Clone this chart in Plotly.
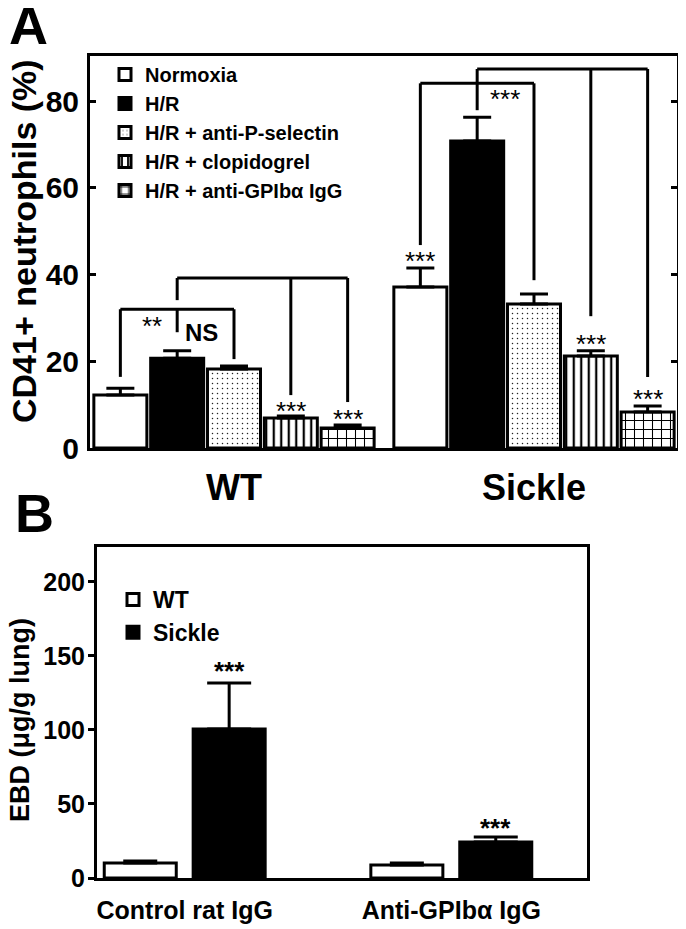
import plotly.graph_objects as go

# ---------------- Panel A data ----------------
groups_A = ["WT", "Sickle"]
series_A = ["Normoxia", "H/R", "H/R + anti-P-selectin", "H/R + clopidogrel", "H/R + anti-GPIbα IgG"]
normoxia = [12.2, 37.1]
hr = [20.7, 70.8]
anti_psel = [18.2, 33.2]
clopidogrel = [6.9, 21.2]
anti_gpib = [4.6, 8.3]
err_normoxia = [1.6, 4.4]
err_hr = [1.7, 5.5]
err_anti_psel = [0.7, 2.3]
err_clopidogrel = [0.5, 1.2]
err_anti_gpib = [0.7, 1.4]
yticks_A = [0, 20, 40, 60, 80]

# ---------------- Panel B data ----------------
groups_B = ["Control rat IgG", "Anti-GPIbα IgG"]
series_B = ["WT", "Sickle"]
ebd_wt = [10.1, 8.8]
ebd_sickle = [100.7, 24.3]
err_wt = [1.4, 1.3]
err_sickle = [31.1, 3.4]
yticks_B = [0, 50, 100, 150, 200]

# page is 686x929; the html body adds an 8px margin, so the figure is 678x921
OFF = 8
W, H = 686 - OFF, 929 - OFF
FONT = "Liberation Sans, Arial, Helvetica, sans-serif"

def px_x(p):
    return (p - OFF) / W

def px_y(p):
    return 1 - (p - OFF) / H

values_A = [normoxia, hr, anti_psel, clopidogrel, anti_gpib]
errors_A = [err_normoxia, err_hr, err_anti_psel, err_clopidogrel, err_anti_gpib]
styles_A = [
    dict(color="white"),
    dict(color="black"),
    dict(color="white", pattern=dict(shape=".", size=5, solidity=0.07, fgcolor="#222", bgcolor="white", fillmode="replace")),
    dict(color="white", pattern=dict(shape="|", size=7.5, solidity=0.3, fgcolor="black", bgcolor="white", fillmode="replace")),
    dict(color="white", pattern=dict(shape="+", size=9, solidity=0.22, fgcolor="black", bgcolor="white", fillmode="replace")),
]

fig = go.Figure()
xpos_A = list(range(len(groups_A)))
for name, vals, errs, st in zip(series_A, values_A, errors_A, styles_A):
    fig.add_trace(go.Bar(
        x=xpos_A, y=vals, name=name,
        marker=dict(line=dict(color="black", width=3), **st),
        error_y=dict(type="data", array=errs, arrayminus=[0] * len(errs), symmetric=False,
                     color="black", thickness=3, width=14),
        xaxis="x", yaxis="y", legend="legend",
    ))

BARGAP_B = 0.333
GROUPGAP_B = 0.19
SLOT_B = (1 - BARGAP_B) / len(series_B)
xpos_B = list(range(len(groups_B)))
for idx, (name, vals, errs, col, w) in enumerate(zip(series_B, [ebd_wt, ebd_sickle], [err_wt, err_sickle],
                                                      ["white", "black"], [17, 22])):
    fig.add_trace(go.Bar(
        x=xpos_B, y=vals, name=name,
        width=SLOT_B * (1 - GROUPGAP_B),
        offset=(idx - len(series_B) / 2) * SLOT_B + SLOT_B * GROUPGAP_B / 2,
        marker=dict(color=col, line=dict(color="black", width=3)),
        error_y=dict(type="data", array=errs, arrayminus=[0] * len(errs), symmetric=False,
                     color="black", thickness=3, width=w),
        xaxis="x2", yaxis="y2", legend="legend2",
    ))

# bar slot geometry for panel A (grouped bars)
BARGAP_A = 0.053
SLOT_A = (1 - BARGAP_A) / len(series_A)

def bx(g, i):
    return g + (i - (len(series_A) - 1) / 2) * SLOT_A

def bx2(g, i):
    return g + (i - (len(series_B) - 1) / 2) * SLOT_B

shapes = []
def seg(x0, y0, x1, y1):
    shapes.append(dict(type="line", xref="x", yref="y", x0=x0, y0=y0, x1=x1, y1=y1,
                       line=dict(color="black", width=3)))

# WT brackets
seg(bx(0, 0), 32.0, bx(0, 2), 32.0)
seg(bx(0, 0), 32.0, bx(0, 0), 16.4)
seg(bx(0, 2), 32.0, bx(0, 2), 20.5)
seg(bx(0, 1), 32.0, bx(0, 1), 26.7)
seg(bx(0, 1), 39.2, bx(0, 4), 39.2)
seg(bx(0, 1), 39.2, bx(0, 1), 34.1)
seg(bx(0, 3), 39.2, bx(0, 3), 12.2)
seg(bx(0, 4), 39.2, bx(0, 4), 10.6)
# Sickle brackets
seg(bx(1, 0), 84.1, bx(1, 2), 84.1)
seg(bx(1, 0), 84.1, bx(1, 0), 46.8)
seg(bx(1, 2), 84.1, bx(1, 2), 38.7)
seg(bx(1, 1), 84.1, bx(1, 1), 77.9)
seg(bx(1, 1), 87.4, bx(1, 4), 87.4)
seg(bx(1, 1), 87.4, bx(1, 1), 84.1)
seg(bx(1, 3), 87.4, bx(1, 3), 30.4)
seg(bx(1, 4), 87.4, bx(1, 4), 16.4)

ann = []
def star(x, y, text, size=26, bold=False, xref="x", yref="y"):
    ann.append(dict(x=x, y=y, xref=xref, yref=yref, text=text, showarrow=False,
                    font=dict(family=FONT, size=size, color="black", weight="bold" if bold else "normal"),
                    xanchor="center", yanchor="middle"))

star(-0.273, 28.2, "**")
star(-0.107, 26.7, "NS", size=24, bold=True)
star(bx(0, 3), 8.6, "***")
star(bx(0, 4), 6.7, "***")
star(bx(1, 1) + 0.093, 80.5, "***")
star(bx(1, 0), 43.2, "***")
star(bx(1, 3), 24.0, "***")
star(bx(1, 4), 11.4, "***")

# Panel B stars
star(bx2(0, 1), 140, "***", size=26, bold=True, xref="x2", yref="y2")
star(bx2(1, 1), 34, "***", size=26, bold=True, xref="x2", yref="y2")

# panel letters and y titles
def label(xp, yp, text, size, angle=0):
    ann.append(dict(x=px_x(xp), y=px_y(yp), xref="paper", yref="paper", text=text, showarrow=False,
                    textangle=angle, font=dict(family=FONT, size=size, color="black", weight="bold"),
                    xanchor="center", yanchor="middle"))

label(28, 25, "A", 54)
label(34, 513, "B", 54)
label(24, 241, "CD41+ neutrophils (%)", 34, -90)
label(20, 720, "EBD (μg/g lung)", 27, -90)

axis_common = dict(showline=True, linecolor="black", linewidth=3, showgrid=False, zeroline=False)

fig.update_layout(
    width=W, height=H,
    margin=dict(l=0, r=0, t=0, b=0),
    paper_bgcolor="white", plot_bgcolor="white",
    font=dict(family=FONT, color="black"),
    barmode="group", bargap=BARGAP_A, bargroupgap=0.067,
    hovermode=False,
    showlegend=True,
    xaxis=dict(domain=[px_x(90), px_x(677)], range=[-0.48, 1.4767], anchor="y",
               tickvals=xpos_A, ticktext=groups_A, ticks="", mirror=True,
               tickfont=dict(family=FONT, size=36, weight="bold"), ticklabelstandoff=6,
               automargin=False, **axis_common),
    yaxis=dict(domain=[px_y(448), px_y(56)], range=[0, 90.4], anchor="x",
               tickvals=yticks_A, ticks="inside", ticklen=6, tickwidth=3, tickcolor="black",
               mirror="allticks", tickfont=dict(family=FONT, size=30, weight="bold"),
               ticklabelstandoff=2, automargin=False, **axis_common),
    xaxis2=dict(domain=[px_x(97), px_x(587)], range=[-0.329, 1.509], anchor="y2",
                tickvals=xpos_B, ticktext=groups_B, ticks="", mirror=True,
                tickfont=dict(family=FONT, size=25, weight="bold"), ticklabelstandoff=8,
                automargin=False, **axis_common),
    yaxis2=dict(domain=[px_y(878), px_y(547)], range=[0, 223.6], anchor="x2",
                tickvals=yticks_B, ticks="outside", ticklen=6, tickwidth=3, tickcolor="black",
                mirror=True, tickfont=dict(family=FONT, size=25, weight="bold"),
                ticklabelstandoff=-2, automargin=False, **axis_common),
    legend=dict(x=px_x(105), y=px_y(55), xanchor="left", yanchor="top", bgcolor="rgba(0,0,0,0)",
                font=dict(family=FONT, size=20, color="black", weight="bold"), tracegroupgap=0),
    legend2=dict(x=px_x(113), y=px_y(578), xanchor="left", yanchor="top", bgcolor="rgba(0,0,0,0)",
                 font=dict(family=FONT, size=23, color="black", weight="bold"), tracegroupgap=0),
    shapes=shapes,
    annotations=ann,
)

fig.write_html("out.html")
